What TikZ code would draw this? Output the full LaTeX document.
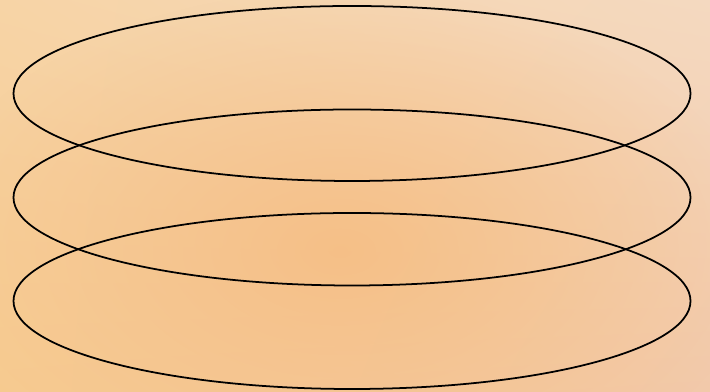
\documentclass[tikz,border=0pt]{standalone}
\usepackage{tikz}
\usetikzlibrary{shadings,fadings}

\definecolor{peachTL}{HTML}{F7D4A6}
\definecolor{peachTR}{HTML}{F4D9C0}
\definecolor{peachBL}{HTML}{F7CB90}
\definecolor{peachBR}{HTML}{F2C9AA}
\definecolor{peachMid}{HTML}{F5BE84}

\tikzfading[name=fadeMid, inner color=transparent!0, outer color=transparent!100]

\begin{document}
\begin{tikzpicture}[x=0.01cm,y=-0.01cm]
\useasboundingbox (0,0) rectangle (710,392);
\clip (0,0) rectangle (710,392);
\shade[upper left=peachTL,upper right=peachTR,lower left=peachBL,lower right=peachBR] (0,0) rectangle (710,392);
\fill[peachMid,path fading=fadeMid,fill opacity=0.9] (340,250) ellipse (420 and 260);
\draw[black,line width=0.5pt] (352,93.5) ellipse (338.5 and 87.5);
\draw[black,line width=0.5pt] (352,197.5) ellipse (338.5 and 88);
\draw[black,line width=0.5pt] (352,301) ellipse (338.5 and 88);
\end{tikzpicture}
\end{document}
